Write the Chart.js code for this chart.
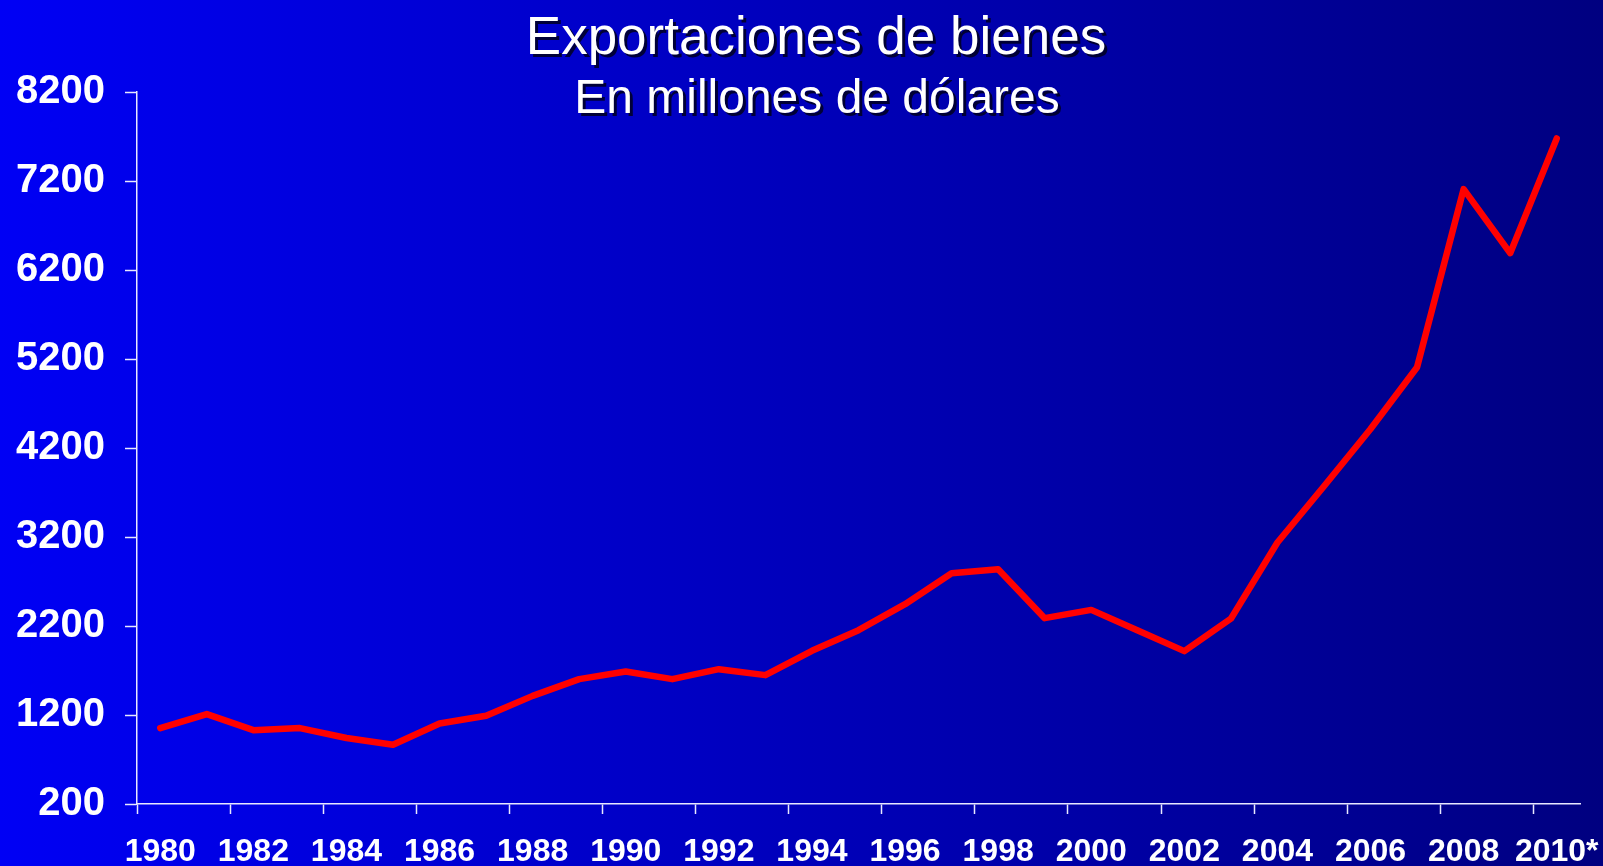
<!DOCTYPE html>
<html>
<head>
<meta charset="utf-8">
<script src="https://cdn.jsdelivr.net/npm/chart.js@4"></script>
<style>
  html, body { margin: 0; padding: 0; background: #0000a0; overflow: hidden; }
  canvas { display: block; }
</style>
</head>
<body>
<canvas id="exports-chart" width="1603" height="866"></canvas>
<script>
const TITLE = 'Exportaciones de bienes';
const SUBTITLE = 'En millones de dólares';

const years = ['1980', '1981', '1982', '1983', '1984', '1985', '1986', '1987', '1988', '1989',
    '1990', '1991', '1992', '1993', '1994', '1995', '1996', '1997', '1998', '1999',
    '2000', '2001', '2002', '2003', '2004', '2005', '2006', '2007', '2008', '2009', '2010*'];

// millones de dólares
const exportValues = [1053, 1210, 1030, 1053, 941, 866, 1105, 1191, 1415, 1603,
    1688, 1603, 1715, 1648, 1921, 2153, 2445, 2793, 2837, 2288,
    2381, 2150, 1918, 2282, 3138, 3770, 4414, 5108, 7108, 6389, 7678];

const yMin = 200;
const yMax = 8200;
const yStep = 1000;

const FONT = '"Liberation Sans", Arial, sans-serif';

// blue slide background, bright on the left, navy on the right
const slideBackground = {
    id: 'slideBackground',
    beforeDraw(chart) {
        const ctx = chart.ctx;
        const grad = ctx.createLinearGradient(0, 0, chart.width, 0);
        grad.addColorStop(0, 'rgb(0, 0, 245)');
        grad.addColorStop(1, 'rgb(0, 0, 128)');
        ctx.save();
        ctx.fillStyle = grad;
        ctx.fillRect(0, 0, chart.width, chart.height);
        ctx.restore();
    }
};

// titles sit over the plot area, with a dark drop shadow
const slideTitle = {
    id: 'slideTitle',
    afterDraw(chart) {
        const ctx = chart.ctx;
        ctx.save();
        ctx.fillStyle = '#ffffff';
        ctx.textAlign = 'center';
        ctx.textBaseline = 'alphabetic';
        ctx.shadowColor = 'rgba(0, 0, 30, 0.85)';
        ctx.shadowOffsetX = 3;
        ctx.shadowOffsetY = 3;
        ctx.font = '53px ' + FONT;
        ctx.fillText(TITLE, 816, 54);
        ctx.font = '48px ' + FONT;
        ctx.fillText(SUBTITLE, 817, 113);
        ctx.restore();
    }
};

document.addEventListener('DOMContentLoaded', function() {
    const ctx = document.getElementById('exports-chart').getContext('2d');

    new Chart(ctx, {
        type: 'line',
        data: {
            labels: years,
            datasets: [{
                label: TITLE,
                data: exportValues,
                borderColor: '#ff0000',
                borderWidth: 6.5,
                borderCapStyle: 'round',
                borderJoinStyle: 'round',
                pointRadius: 0,
                tension: 0
            }]
        },
        options: {
            responsive: false,
            animation: false,
            layout: {
                padding: { top: 92, right: 23, bottom: 0, left: 0 }
            },
            plugins: {
                legend: { display: false },
                title: { display: false },
                tooltip: { enabled: false }
            },
            scales: {
                x: {
                    offset: true,
                    grid: {
                        offset: true,
                        drawOnChartArea: false,
                        tickLength: 10,
                        tickWidth: 1.5,
                        tickColor: c => (c.index !== undefined && c.index % 2 === 0) ? '#e8e8ff' : 'rgba(0,0,0,0)'
                    },
                    border: { color: '#e8e8ff', width: 1.5 },
                    ticks: {
                        autoSkip: false,
                        maxRotation: 0,
                        padding: 19,
                        color: '#ffffff',
                        font: { family: FONT, size: 32, weight: 'bold' },
                        callback: function(value, index) {
                            return index % 2 === 0 ? this.getLabelForValue(value) : '';
                        }
                    },
                    afterFit: function(scale) {
                        scale.height = 62;
                        scale.paddingLeft = 0;
                        scale.paddingRight = 0;
                    }
                },
                y: {
                    min: yMin,
                    max: yMax,
                    grid: {
                        drawOnChartArea: false,
                        tickLength: 12,
                        tickWidth: 1.5,
                        tickColor: '#e8e8ff'
                    },
                    border: { color: '#e8e8ff', width: 1.5 },
                    ticks: {
                        stepSize: yStep,
                        padding: 20,
                        color: '#ffffff',
                        font: { family: FONT, size: 40, weight: 'bold' },
                        callback: v => String(v)
                    },
                    afterFit: function(scale) {
                        scale.width = 137;
                        scale.paddingTop = 0;
                        scale.paddingBottom = 0;
                    }
                }
            }
        },
        plugins: [slideBackground, slideTitle]
    });
});
</script>
</body>
</html>
